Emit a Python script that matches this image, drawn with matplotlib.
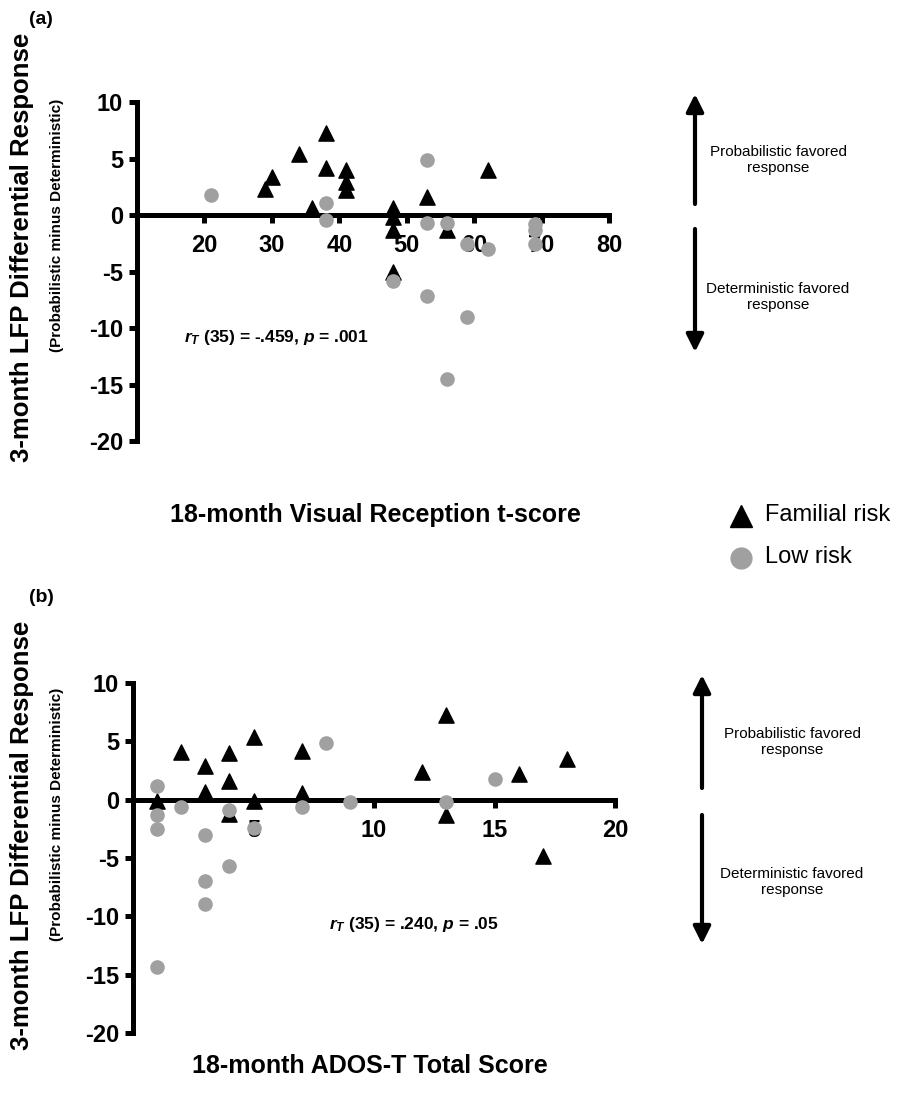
import matplotlib
matplotlib.use("Agg")
import matplotlib.pyplot as plt
from matplotlib.lines import Line2D
from matplotlib.patches import FancyArrowPatch

plt.rcParams['font.family'] = ['Liberation Sans', 'DejaVu Sans']
plt.rcParams['axes.unicode_minus'] = False
plt.rcParams['mathtext.fontset'] = 'custom'
plt.rcParams['mathtext.it'] = 'Liberation Sans:bold:italic'
plt.rcParams['mathtext.rm'] = 'Liberation Sans:bold'

# panel (a): 18-month Visual Reception t-score
vr_fam_x = [29, 30, 34, 38, 38, 36, 41, 41, 41, 48, 48, 48, 48, 53, 56, 62]
vr_fam_y = [2.3, 3.4, 5.4, 7.3, 4.2, 0.6, 4.0, 2.9, 2.2, 0.6, -0.15, -1.3, -5.0, 1.6, -1.3, 4.0]
vr_low_x = [21, 38, 38, 53, 53, 56, 48, 53, 59, 56, 59, 62, 69, 69, 69]
vr_low_y = [1.8, 1.1, -0.4, 4.85, -0.7, -0.7, -5.8, -7.15, -9.0, -14.5, -2.6, -3.0, -0.8, -1.3, -2.6]

# panel (b): 18-month ADOS-T total score
ados_fam_x = [1, 2, 3, 3, 4, 4, 4, 5, 5, 7, 7, 12, 13, 13, 16, 17, 18]
ados_fam_y = [-0.1, 4.1, 2.9, 0.65, 4.0, 1.6, -1.2, 5.35, -0.15, 4.2, 0.55, 2.4, 7.25, -1.3, 2.2, -4.85, 3.45]
ados_low_x = [1, 1, 1, 1, 2, 3, 3, 3, 4, 4, 5, 7, 8, 9, 13, 15]
ados_low_y = [1.2, -1.3, -2.5, -14.3, -0.65, -3.0, -7.0, -8.9, -0.85, -5.65, -2.45, -0.6, 4.85, -0.2, -0.2, 1.8]

y_ticks = [10, 5, 0, -5, -10, -15, -20]
W, H = 898, 1093
GRAY = '#a0a0a0'

fig = plt.figure(figsize=(W / 100, H / 100), dpi=100)


def fx(x):
    return x / W


def fy(y):
    # pixel row from the top -> figure fraction
    return 1 - y / H


def px_axes(left, right, top, bottom):
    return fig.add_axes([fx(left), fy(bottom), (right - left) / W, (bottom - top) / H])


def style_axes(ax, xlim, xticks):
    ax.set_xlim(*xlim)
    ax.set_ylim(-20, 10)
    for s in ['top', 'right']:
        ax.spines[s].set_visible(False)
    ax.spines['left'].set_linewidth(3.6)
    ax.spines['bottom'].set_linewidth(3.6)
    ax.spines['bottom'].set_position(('data', 0))
    ax.spines['left'].set_capstyle('projecting')
    ax.spines['bottom'].set_capstyle('projecting')
    ax.set_yticks(y_ticks)
    ax.set_yticklabels([str(t) for t in y_ticks])
    ax.set_xticks(xticks)
    ax.set_xticklabels([str(t) for t in xticks])
    ax.tick_params(axis='both', direction='out', length=6, width=3.6,
                   labelsize=17, pad=4)
    ax.tick_params(axis='x', pad=8)
    for lab in ax.get_xticklabels() + ax.get_yticklabels():
        lab.set_fontweight('bold')
    ax.patch.set_visible(False)


def points(ax, fam_x, fam_y, low_x, low_y):
    ax.scatter(fam_x, fam_y, marker='^', s=120, color='black', zorder=3, clip_on=False)
    ax.scatter(low_x, low_y, marker='o', s=90, color=GRAY, zorder=4, clip_on=False)


def side_arrows(x, up_bot, up_top, dn_top, dn_bot, tx, ty_up, ty_dn):
    kw = dict(arrowstyle='-|>', lw=3, mutation_scale=26, color='black',
              shrinkA=0, shrinkB=0, transform=fig.transFigure)
    fig.add_artist(FancyArrowPatch((fx(x), fy(up_bot)), (fx(x), fy(up_top)), **kw))
    fig.add_artist(FancyArrowPatch((fx(x), fy(dn_top)), (fx(x), fy(dn_bot)), **kw))
    fig.text(fx(tx), fy(ty_up), 'Probabilistic favored\nresponse',
             ha='center', va='center', fontsize=11, linespacing=1.2)
    fig.text(fx(tx), fy(ty_dn), 'Deterministic favored\nresponse',
             ha='center', va='center', fontsize=11, linespacing=1.2)


def y_labels(main_y, sub_y):
    fig.text(fx(22), fy(main_y), '3-month LFP Differential Response',
             rotation=90, ha='center', va='center', fontsize=18.5, fontweight='bold')
    fig.text(fx(57), fy(sub_y), '(Probabilistic minus Deterministic)',
             rotation=90, ha='center', va='center', fontsize=11, fontweight='bold')


# panel (a)
ax1 = px_axes(137, 609, 102, 441)
style_axes(ax1, (10, 80), [20, 30, 40, 50, 60, 70, 80])
points(ax1, vr_fam_x, vr_fam_y, vr_low_x, vr_low_y)
ax1.text(17, -10.8, r'$r_T$ (35) = -.459, $p$ = .001', fontsize=12.5,
         fontweight='bold', va='center')
fig.text(fx(375), fy(515), '18-month Visual Reception t-score',
         ha='center', va='center', fontsize=18, fontweight='bold')
y_labels(247, 225)
side_arrows(695, 204, 94, 229, 352, 778, 160, 297)
fig.text(fx(41), fy(20), '(a)', ha='center', va='center', fontsize=14, fontweight='bold')

# panel (b)
ax2 = px_axes(133, 615, 683, 1033)
style_axes(ax2, (0, 20), [5, 10, 15, 20])
points(ax2, ados_fam_x, ados_fam_y, ados_low_x, ados_low_y)
ax2.text(8.15, -10.7, r'$r_T$ (35) = .240, $p$ = .05', fontsize=12.5,
         fontweight='bold', va='center')
fig.text(fx(370), fy(1066), '18-month ADOS-T Total Score',
         ha='center', va='center', fontsize=18, fontweight='bold')
y_labels(835, 814)
side_arrows(702, 788, 675, 815, 944, 792, 742, 882)
fig.text(fx(41), fy(598), '(b)', ha='center', va='center', fontsize=14, fontweight='bold')

# legend
fig.add_artist(Line2D([fx(741)], [fy(516)], marker='^', markersize=16, color='black',
                      linestyle='none', transform=fig.transFigure))
fig.text(fx(765), fy(515), 'Familial risk', ha='left', va='center', fontsize=17)
fig.add_artist(Line2D([fx(741)], [fy(558)], marker='o', markersize=15, color=GRAY,
                      linestyle='none', transform=fig.transFigure))
fig.text(fx(765), fy(557), 'Low risk', ha='left', va='center', fontsize=17)

fig.savefig('out.png', dpi=100)
